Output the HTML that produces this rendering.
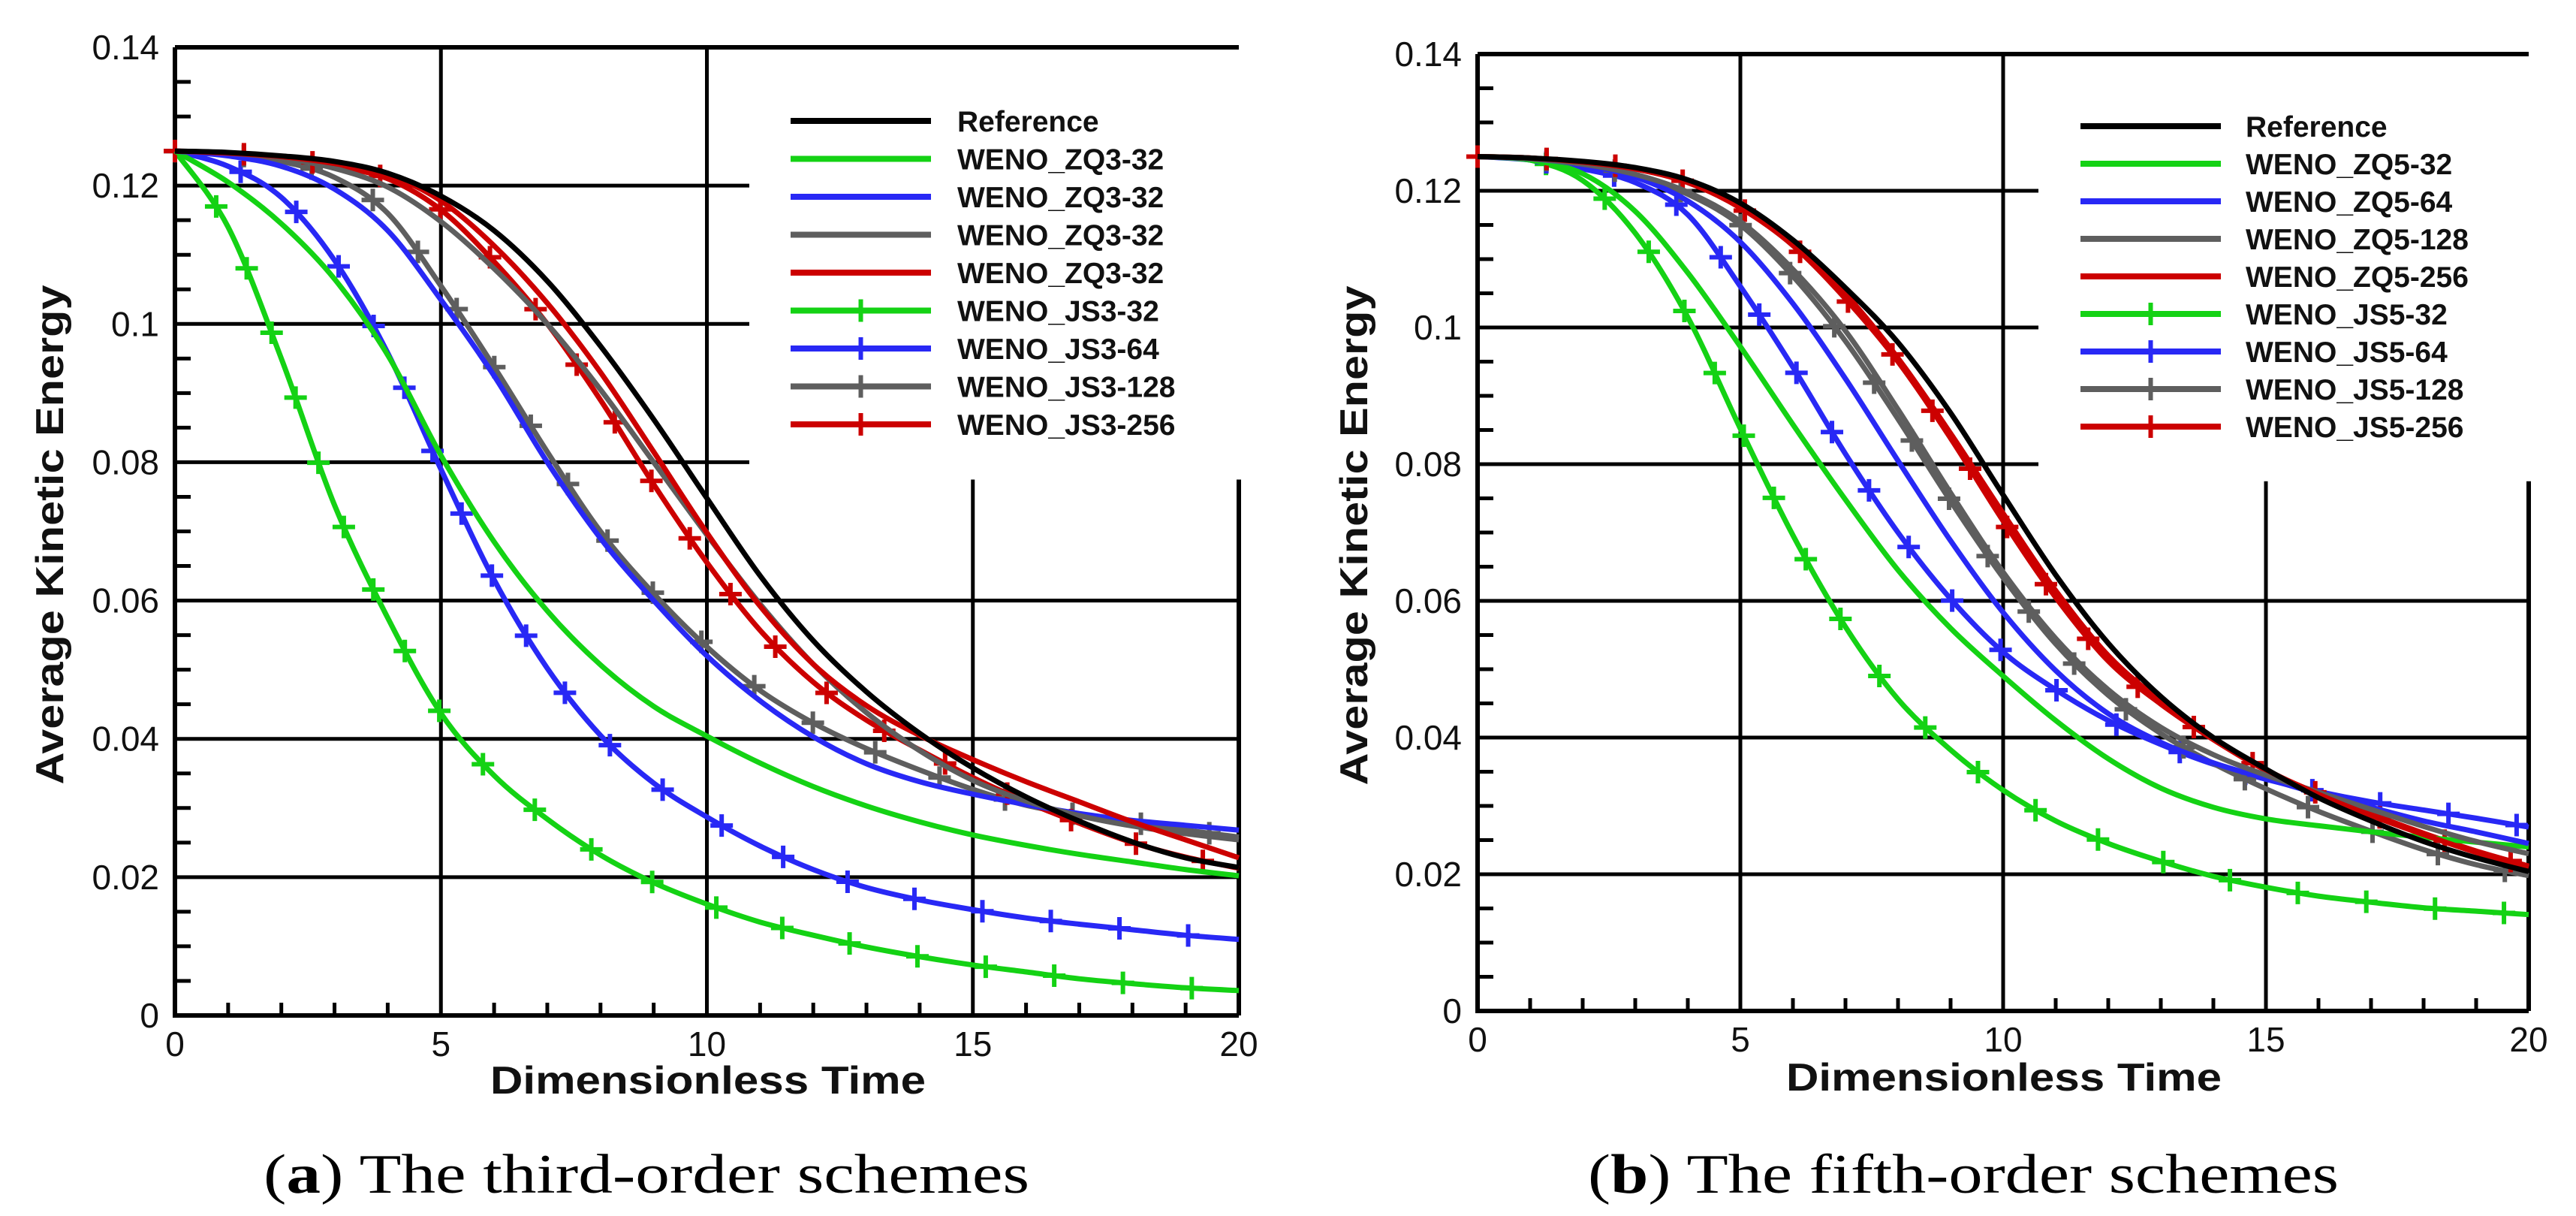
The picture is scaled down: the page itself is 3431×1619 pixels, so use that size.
<!DOCTYPE html>
<html><head><meta charset="utf-8"><style>
html,body{margin:0;padding:0;background:#fff;}
svg{display:block;}
</style></head><body>
<svg id="fig" width="3431" height="1619" viewBox="0 0 3431 1619" xmlns="http://www.w3.org/2000/svg">
<rect x="0" y="0" width="3431" height="1619" fill="#fff"/>
</svg>
<script>
// ---------- data ----------
const timeSamples = [0,1,2,3,4,5,6,7,8,9,10,11,12,13,14,15,16,17,18,19,20];
const xTickLabels = ["0","5","10","15","20"];
const xTickValues = [0,5,10,15,20];
const yTickLabels = ["0","0.02","0.04","0.06","0.08","0.1","0.12","0.14"];
const yTickValues = [0,0.02,0.04,0.06,0.08,0.1,0.12,0.14];

const leftNames = ["Reference","WENO_ZQ3-32","WENO_ZQ3-32","WENO_ZQ3-32","WENO_ZQ3-32","WENO_JS3-32","WENO_JS3-64","WENO_JS3-128","WENO_JS3-256"];
const rightNames = ["Reference","WENO_ZQ5-32","WENO_ZQ5-64","WENO_ZQ5-128","WENO_ZQ5-256","WENO_JS5-32","WENO_JS5-64","WENO_JS5-128","WENO_JS5-256"];

// left panel (third order)
const leftRef  = [.125,.1248,.1243,.1235,.1218,.1185,.1135,.1062,.0968,.0862,.0748,.0636,.0542,.0468,.0408,.0358,.0316,.0281,.0251,.0228,.0214];
const leftZQ32 = [.125,.1205,.1145,.1065,.0955,.081,.0685,.0585,.0507,.0447,.0404,.0365,.0331,.0303,.028,.0261,.0246,.0233,.0222,.0211,.0202];
const leftZQ64 = [.125,.1243,.1228,.1195,.1135,.1035,.0925,.080,.069,.060,.052,.0455,.0403,.0364,.0338,.032,.0305,.0292,.0282,.0275,.0268];
const leftZQ128= [.125,.1247,.124,.1225,.1198,.1148,.108,.100,.0905,.080,.0695,.0595,.0508,.0438,.0383,.034,.031,.0289,.0274,.0263,.0254];
const leftZQ256= [.125,.1247,.1242,.1232,.1216,.1178,.1113,.1030,.0930,.0815,.0698,.0592,.0508,.0448,.0405,.037,.0338,.0309,.028,.0254,.0228];
const leftJS32 = [.125,.114,.095,.0738,.0575,.0437,.0347,.0284,.0232,.0192,.0161,.0135,.0116,.0099,.0085,.0073,.0063,.0053,.0046,.004,.0036];
const leftJS64 = [.125,.1228,.1183,.1092,.0958,.079,.063,.0502,.0405,.0336,.0287,.0245,.0211,.0185,.0167,.0153,.0141,.0132,.0124,.0116,.011];
const leftJS128= [.125,.1245,.1235,.1212,.116,.1055,.0938,.0815,.07,.0610,.0533,.047,.0423,.0386,.0355,.0327,.0304,.0290,.0279,.0268,.0258];
const leftJS256= [.125,.1247,.124,.1228,.1210,.1165,.1090,.1000,.0890,.0768,.0655,.0557,.0482,.0427,.0384,.0344,.0309,.0278,.0250,.0229,.0213];

// right panel (fifth order)
const rightRef  = [.125,.1248,.1243,.1234,.1216,.1182,.1128,.1058,.0978,.0875,.0755,.0638,.0538,.046,.04,.0354,.0312,.0278,.0248,.0224,.0204];
const rightZQ32 = [.125,.1245,.1225,.117,.108,.0972,.0858,.0748,.0645,.0560,.049,.0425,.0369,.0326,.0298,.0281,.0271,.0262,.0254,.0247,.024];
const rightZQ64 = [.125,.1247,.1238,.122,.1185,.1125,.1035,.0925,.0805,.0688,.0583,.0498,.0435,.0393,.0363,.034,.0318,.0298,.0278,.0262,.0245];
const rightZQ128= [.125,.1247,.1239,.1224,.1198,.1155,.1085,.0995,.088,.0758,.0642,.0545,.047,.0415,.0375,.0345,.032,.0295,.027,.0248,.023];
const rightZQ256= [.125,.1248,.1242,.1232,.1213,.1178,.1125,.1049,.0955,.0845,.0728,.0615,.052,.0453,.0398,.0353,.0317,.0286,.0258,.0232,.021];
const rightJS32 = [.125,.1245,.1215,.1138,.1015,.0852,.0696,.0562,.0456,.0382,.0323,.0278,.0245,.0219,.0197,.0181,.0168,.0159,.0151,.0146,.0141];
const rightJS64 = [.125,.1245,.1232,.1212,.1165,.106,.0942,.0815,.070,.0603,.0525,.047,.0425,.039,.0361,.0339,.0321,.0306,.0294,.0282,.0269];
const rightJS128= [.125,.1247,.1238,.1222,.1195,.115,.1075,.098,.0866,.0746,.0634,.0537,.0462,.0406,.0362,.0325,.0292,.0263,.0236,.0214,.0198];
const rightJS256= [.125,.1248,.1242,.1232,.1212,.1175,.1120,.1042,.0950,.0838,.0717,.0605,.0512,.0449,.0397,.0352,.0318,.0288,.0260,.0234,.0212];

const seriesColors = ["#000000","#14d214","#2828f5","#5e5e5e","#cc0000","#14d214","#2828f5","#5e5e5e","#cc0000"];
const seriesMarkers = [false,false,false,false,false,true,true,true,true];

// ---------- drawing ----------
const NS = "http://www.w3.org/2000/svg";
const svg = document.getElementById("fig");
function mk(tag, attrs, parent){
  const e = document.createElementNS(NS, tag);
  for (const k in attrs) e.setAttribute(k, attrs[k]);
  (parent||svg).appendChild(e);
  return e;
}

function drawPanel(P){
  const g = mk("g", {});
  
  
  const sx = v => P.x0 + (v - 0) / 20 * (P.x1 - P.x0);
  const sy = v => P.y0 - v / 0.14 * (P.y0 - P.y1);
  const lw = 5;
  for (let i = 1; i < yTickValues.length - 1; i++) {
    const v = yTickValues[i];
    const xe = v >= 0.075 ? P.legX : P.x1;
    const l = mk("line", {x1:P.x0, x2:xe, y1:sy(v), y2:sy(v), stroke:"#000", "stroke-width":lw}, g);
    
    
  }
  for (let i = 1; i < xTickValues.length - 1; i++) {
    const v = xTickValues[i];
    const ys = sx(v) > P.legX ? sy(0.0775) : P.y1;
    const l = mk("line", {x1:sx(v), x2:sx(v), y1:ys, y2:P.y0, stroke:"#000", "stroke-width":lw}, g);
    
    
  }
  for (let t = 1; t < 20; t++) {
    if (t % 5 === 0) continue;
    const l = mk("line", {x1:sx(t), x2:sx(t), y1:P.y0, y2:P.y0-17, stroke:"#000", "stroke-width":lw}, g);
    
    
  }
  for (let k = 1; k < 28; k++) {
    if (k % 4 === 0) continue;
    const v = k * 0.005;
    const l = mk("line", {x1:P.x0, x2:P.x0+21, y1:sy(v), y2:sy(v), stroke:"#000", "stroke-width":lw}, g);
    
    
  }
  const fr = mk("path", {d:`M${P.x0},${P.y1} L${P.x1},${P.y1} M${P.x0},${P.y1} L${P.x0},${P.y0} L${P.x1},${P.y0} M${P.x1},${sy(0.0775)} L${P.x1},${P.y0}`, stroke:"#000", "stroke-width":lw+1, fill:"none"}, g);
  
  
  yTickValues.forEach((v, i) => {
    const t = mk("text", {x:P.ylabX, y:sy(v)+16, "text-anchor":"end", "font-family":"Liberation Sans, sans-serif", "font-size":46, fill:"#111"}, g);
    t.textContent = yTickLabels[i];
    
    
  });
  xTickValues.forEach((v, i) => {
    const t = mk("text", {x:sx(v), y:P.y0+54, "text-anchor":"middle", "font-family":"Liberation Sans, sans-serif", "font-size":46, fill:"#111"}, g);
    t.textContent = xTickLabels[i];
    
    
  });
  const xt = mk("text", {x:P.xtX, y:P.xtY, "text-anchor":"middle", "font-family":"Liberation Sans, sans-serif", "font-weight":"bold", "font-size":52, textLength:580, lengthAdjust:"spacingAndGlyphs", fill:"#111"}, g);
  xt.textContent = "Dimensionless Time";
  
  
  const yt = mk("text", {x:0, y:0, "text-anchor":"middle", "font-family":"Liberation Sans, sans-serif", "font-weight":"bold", "font-size":52, textLength:665, lengthAdjust:"spacingAndGlyphs", fill:"#111", transform:`translate(${P.ytX},${P.ytY}) rotate(-90)`}, g);
  yt.textContent = "Average Kinetic Energy";
  
  
  const cap = mk("text", {x:P.capX, y:1588, "text-anchor":"middle", "font-family":"Liberation Serif, serif", "font-size":74, textLength:P.capW, lengthAdjust:"spacingAndGlyphs", fill:"#000"}, g);
  
  
  const b = document.createElementNS(NS, "tspan"); b.setAttribute("font-weight","bold");
  cap.appendChild(document.createTextNode("("));
  b.textContent = P.letter; cap.appendChild(b);
  cap.appendChild(document.createTextNode(") " + P.caption));

  const drawPlus = (px, py, color, parent) => {
    const m = mk("path", {d:`M${px-15},${py} L${px+15},${py} M${px},${py-15} L${px},${py+15}`, stroke:color, "stroke-width":6, fill:"none"}, parent);
    
    
  };
  const order = [5,6,7,8,1,2,3,4,0];
  order.forEach(si => {
    const vals = P.series[si];
    const pts = timeSamples.map((t, i) => [sx(t), sy(vals[i])]);
    let d = `M${pts[0][0]},${pts[0][1]}`;
    for (let i = 0; i < pts.length - 1; i++) {
      const p0 = pts[Math.max(0, i-1)], p1 = pts[i], p2 = pts[i+1], p3 = pts[Math.min(pts.length-1, i+2)];
      const c1x = p1[0] + (p2[0]-p0[0])/6, c1y = p1[1] + (p2[1]-p0[1])/6;
      const c2x = p2[0] - (p3[0]-p1[0])/6, c2y = p2[1] - (p3[1]-p1[1])/6;
      d += ` C${c1x},${c1y} ${c2x},${c2y} ${p2[0]},${p2[1]}`;
    }
    const sg = mk("g", {}, g);
    
    
    const path = mk("path", {d:d, stroke:seriesColors[si], "stroke-width":7, fill:"none", "stroke-linejoin":"round"}, sg);
    
    
    if (seriesMarkers[si]) {
      const L = path.getTotalLength();
      const step = 92;
      for (let s = 0; s <= L; s += step) {
        const p = path.getPointAtLength(s);
        drawPlus(p.x, p.y, seriesColors[si], sg);
      }
    }
  });

  const lg = mk("g", {}, g);
  
  
  P.names.forEach((nm, i) => {
    const y = P.legY0 + i * P.legDy;
    const e = mk("g", {}, lg);
    
    
    const l = mk("line", {x1:P.legL1, x2:P.legL2, y1:y, y2:y, stroke:seriesColors[i], "stroke-width":8}, e);
    
    
    if (seriesMarkers[i]) drawPlus((P.legL1+P.legL2)/2, y, seriesColors[i], e);
    const t = mk("text", {x:P.legT, y:y+14, "font-family":"Liberation Sans, sans-serif", "font-weight":"bold", "font-size":39, fill:"#111"}, e);
    t.textContent = nm;
    
    
  });
}

drawPanel({id:"third-order", x0:233, x1:1650, y0:1352, y1:63, legX:998,
  ylabX:212, xtX:943, xtY:1456, ytX:84, ytY:712, capX:861, capW:1020, letter:"a", caption:"The third-order schemes",
  names:leftNames, series:[leftRef,leftZQ32,leftZQ64,leftZQ128,leftZQ256,leftJS32,leftJS64,leftJS128,leftJS256],
  legY0:161, legDy:50.5, legL1:1053, legL2:1240, legT:1275});
drawPanel({id:"fifth-order", x0:1968, x1:3368, y0:1346, y1:72, legX:2715,
  ylabX:1947, xtX:2669, xtY:1452, ytX:1821, ytY:713, capX:2615, capW:1000, letter:"b", caption:"The fifth-order schemes",
  names:rightNames, series:[rightRef,rightZQ32,rightZQ64,rightZQ128,rightZQ256,rightJS32,rightJS64,rightJS128,rightJS256],
  legY0:168, legDy:50, legL1:2771, legL2:2958, legT:2991});
</script>
</body></html>
